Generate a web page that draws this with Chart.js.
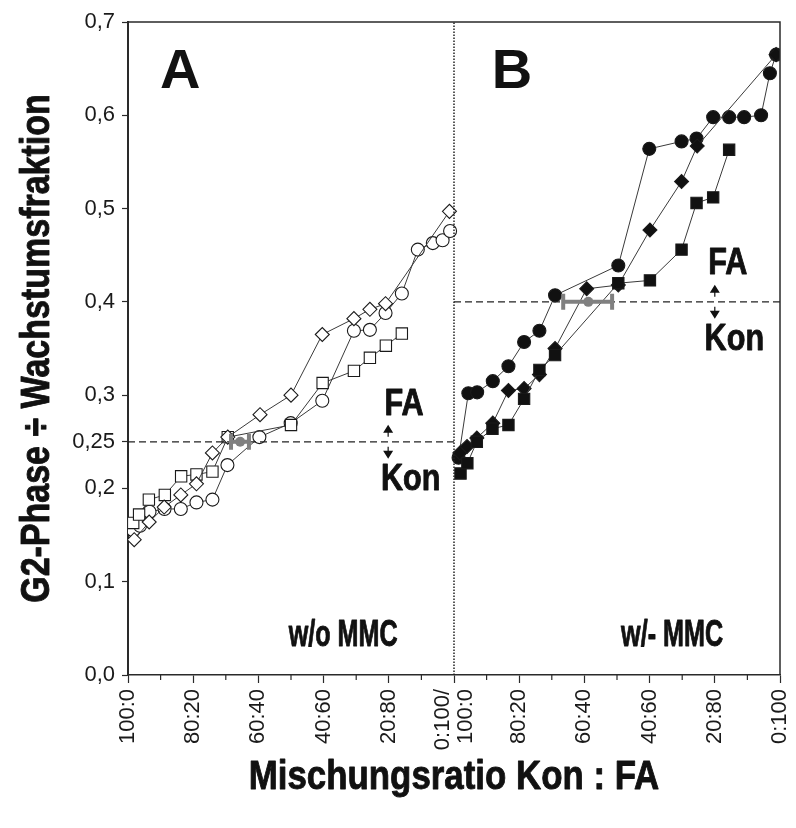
<!DOCTYPE html>
<html>
<head>
<meta charset="utf-8">
<script src="https://cdn.jsdelivr.net/npm/chart.js@4.4.1/dist/chart.umd.min.js"></script>
<style>
  html, body { margin: 0; padding: 0; background: #fff; }
</style>
</head>
<body>
<canvas id="cnv_g2_chart" width="796" height="828"></canvas>
<script>
// x = share of FA in percent, panel A on 0..100, panel B shifted to 100..200
const xTickLabels = ['100:0', '80:20', '60:40', '40:60', '20:80', ['0:100/', '100:0'], '80:20', '60:40', '40:60', '20:80', '0:100']
const yTickValues = [0, 0.1, 0.2, 0.25, 0.3, 0.4, 0.5, 0.6, 0.7]

// panel A: w/o MMC (open symbols)
const aDiamondX = [1.9, 6.5, 11.1, 16.2, 21, 25.9, 30.6, 40.5, 50, 59.6, 69.3, 74.2, 79, 98.6]
const aDiamondY = [0.145, 0.164, 0.180, 0.193, 0.205, 0.238, 0.255, 0.279, 0.300, 0.365, 0.382, 0.392, 0.398, 0.497]
const aSquareX = [1.6, 3.4, 6.4, 11.3, 16.3, 21, 25.9, 30.6, 50, 59.7, 69.3, 74.2, 79.1, 84]
const aSquareY = [0.163, 0.172, 0.188, 0.193, 0.213, 0.215, 0.218, 0.255, 0.268, 0.313, 0.326, 0.340, 0.353, 0.366]
const aCircleX = [1.6, 3.7, 6.6, 11.2, 16.2, 21, 25.9, 30.5, 40.3, 49.9, 59.6, 69.3, 74.2, 79, 84, 88.9, 93.5, 96.5, 98.8]
const aCircleY = [0.155, 0.160, 0.175, 0.178, 0.178, 0.185, 0.188, 0.225, 0.255, 0.270, 0.294, 0.369, 0.370, 0.388, 0.409, 0.456, 0.463, 0.466, 0.476]

// panel B: w/- MMC (filled symbols)
const bCircleX = [101.4, 104.4, 107.1, 111.9, 116.7, 121.5, 126.2, 131, 150.4, 159.9, 169.8, 174.4, 179.5, 184.4, 189, 194.2, 196.9, 198.8]
const bCircleY = [0.233, 0.302, 0.303, 0.315, 0.331, 0.357, 0.369, 0.407, 0.439, 0.564, 0.572, 0.575, 0.598, 0.598, 0.598, 0.600, 0.645, 0.665]
const bDiamondX = [101.8, 104, 107, 111.9, 116.7, 121.5, 126.2, 131, 140.7, 150.4, 160.1, 169.8, 174.6, 198.8]
const bDiamondY = [0.238, 0.245, 0.254, 0.270, 0.305, 0.307, 0.322, 0.350, 0.414, 0.418, 0.477, 0.529, 0.567, 0.665]
const bSquareX = [102, 104.1, 107, 111.8, 116.7, 121.5, 126.2, 131, 150.4, 160.1, 169.8, 174.4, 179.5, 184.4]
const bSquareY = [0.216, 0.227, 0.250, 0.264, 0.268, 0.296, 0.327, 0.343, 0.420, 0.423, 0.456, 0.506, 0.512, 0.563]

// crossing points with their spread (x range) on the threshold line
const crossA = { x: 34.4, lo: 31.6, hi: 37.1, y: 0.25 }
const crossB = { x: 141.2, lo: 133.5, hi: 148.5, y: 0.40 }

const SANS = "'Liberation Sans', Arial, sans-serif"

const toPoints = (xs, ys) => xs.map((x, i) => ({ x: x, y: ys[i] }))

const series = (xs, ys, style, radius, fill) => ({
    data: toPoints(xs, ys),
    showLine: true,
    borderColor: '#3a3a3a',
    borderWidth: 1,
    pointStyle: style,
    pointRadius: radius,
    pointBackgroundColor: fill,
    pointBorderColor: '#1a1a1a',
    pointBorderWidth: 1.1
})

const refLine = (pts, dash, width) => ({
    data: pts,
    showLine: true,
    borderColor: '#222',
    borderWidth: width,
    borderDash: dash,
    pointRadius: 0
})

// bold text squeezed horizontally, looks like a narrow bold face;
// a thin outline keeps the strokes heavy after squeezing
const narrowText = (ctx, text, x, y, size, squeeze, angle) => {
    ctx.save()
    ctx.translate(x, y)
    if (angle) ctx.rotate(angle)
    ctx.scale(squeeze, 1)
    ctx.font = `bold ${size}px ${SANS}`
    ctx.strokeStyle = ctx.fillStyle
    ctx.lineWidth = 0.9
    ctx.lineJoin = 'round'
    ctx.fillText(text, 0, 0)
    ctx.strokeText(text, 0, 0)
    ctx.restore()
}

// frame, minor ticks, crossing bars, titles and panel text
const decorations = {
    id: 'decorations',
    afterDatasetsDraw(chart) {
        const { ctx, chartArea, scales } = chart
        const sx = scales.x, sy = scales.y
        ctx.save()

        // crossing bars
        const drawCross = (c) => {
            const y = sy.getPixelForValue(c.y)
            const x0 = sx.getPixelForValue(c.lo), x1 = sx.getPixelForValue(c.hi)
            ctx.strokeStyle = '#808080'
            ctx.lineWidth = 4
            ctx.lineCap = 'butt'
            ctx.beginPath()
            ctx.moveTo(x0, y); ctx.lineTo(x1, y)
            ctx.moveTo(x0, y - 8); ctx.lineTo(x0, y + 8)
            ctx.moveTo(x1, y - 8); ctx.lineTo(x1, y + 8)
            ctx.stroke()
            ctx.fillStyle = '#808080'
            ctx.beginPath()
            ctx.arc(sx.getPixelForValue(c.x), y, 5, 0, Math.PI * 2)
            ctx.fill()
        }
        drawCross(crossA)
        drawCross(crossB)

        // top and right frame
        ctx.strokeStyle = '#2a2a2a'
        ctx.lineWidth = 1.5
        ctx.beginPath()
        ctx.moveTo(chartArea.left, chartArea.top)
        ctx.lineTo(chartArea.right, chartArea.top)
        ctx.lineTo(chartArea.right, chartArea.bottom)
        ctx.stroke()

        // minor x ticks
        ctx.lineWidth = 1.2
        ctx.beginPath()
        for (let v = 10; v < 200; v += 20) {
            const x = sx.getPixelForValue(v)
            ctx.moveTo(x, chartArea.bottom)
            ctx.lineTo(x, chartArea.bottom + 5)
        }
        ctx.stroke()

        ctx.fillStyle = '#111'

        // two-line label where the panels meet, lines side by side around the tick
        const mid = xTickLabels[5]
        ctx.save()
        ctx.translate(sx.getPixelForValue(100), chartArea.bottom + 14)
        ctx.rotate(-Math.PI / 2)
        ctx.font = `22px ${SANS}`
        ctx.fillStyle = '#1a1a1a'
        ctx.textAlign = 'right'
        ctx.textBaseline = 'middle'
        ctx.fillText(mid[0], 0, -11)
        ctx.fillText(mid[1], 0, 12)
        ctx.restore()

        ctx.textAlign = 'center'
        ctx.textBaseline = 'middle'

        // axis titles
        narrowText(ctx, 'Mischungsratio Kon : FA', (chartArea.left + chartArea.right) / 2, 778, 41, 0.85)
        narrowText(ctx, 'G2-Phase ÷ Wachstumsfraktion', 38, (chartArea.top + chartArea.bottom) / 2, 40, 0.85, -Math.PI / 2)

        // panel letters and treatment labels
        ctx.font = `bold 56px ${SANS}`
        ctx.fillText('A', sx.getPixelForValue(16), sy.getPixelForValue(0.646))
        ctx.fillText('B', sx.getPixelForValue(117.8), sy.getPixelForValue(0.646))
        narrowText(ctx, 'w/o MMC', sx.getPixelForValue(66), sy.getPixelForValue(0.042), 37, 0.68)
        narrowText(ctx, 'w/- MMC', sx.getPixelForValue(166.9), sy.getPixelForValue(0.042), 37, 0.68)

        // FA / Kon side marks with double arrow
        const sideMark = (xText, xArrow, yLine, yFa, yKon) => {
            narrowText(ctx, 'FA', sx.getPixelForValue(xText), sy.getPixelForValue(yFa), 36, 0.85)
            narrowText(ctx, 'Kon', sx.getPixelForValue(xText + 2), sy.getPixelForValue(yKon), 36, 0.85)
            const ax = sx.getPixelForValue(xArrow), ay = sy.getPixelForValue(yLine)
            ctx.beginPath()
            ctx.moveTo(ax, ay - 17); ctx.lineTo(ax - 5, ay - 9); ctx.lineTo(ax + 5, ay - 9); ctx.closePath()
            ctx.moveTo(ax, ay + 17); ctx.lineTo(ax - 5, ay + 9); ctx.lineTo(ax + 5, ay + 9); ctx.closePath()
            ctx.fill()
            ctx.strokeStyle = '#111'
            ctx.lineWidth = 1.2
            ctx.beginPath()
            ctx.moveTo(ax, ay - 10); ctx.lineTo(ax, ay - 5)
            ctx.moveTo(ax, ay + 10); ctx.lineTo(ax, ay + 5)
            ctx.stroke()
        }
        sideMark(84.7, 79.8, crossA.y, 0.289, 0.209)
        sideMark(184, 180, crossB.y, 0.44, 0.359)

        ctx.restore()
    }
}

const ctx = document.getElementById('cnv_g2_chart').getContext('2d')
const myChart = new Chart(ctx, {
    type: 'scatter',
    plugins: [decorations],
    data: {
        datasets: [
            refLine([{ x: 0, y: crossA.y }, { x: 100, y: crossA.y }], [7, 4], 1.3),
            refLine([{ x: 100, y: crossB.y }, { x: 200, y: crossB.y }], [7, 4], 1.3),
            refLine([{ x: 100, y: 0 }, { x: 100, y: 0.7 }], [1.5, 1.5], 1.5),
            series(aDiamondX, aDiamondY, 'rectRot', 7, '#fff'),
            series(aSquareX, aSquareY, 'rect', 8, '#fff'),
            series(aCircleX, aCircleY, 'circle', 6.5, '#fff'),
            series(bSquareX, bSquareY, 'rect', 8, '#111'),
            series(bDiamondX, bDiamondY, 'rectRot', 7, '#111'),
            series(bCircleX, bCircleY, 'circle', 6.5, '#111')
        ]
    },
    options: {
        responsive: false,
        animation: false,
        layout: { padding: { left: 20, right: 16, top: 22, bottom: 28 } },
        plugins: {
            legend: { display: false },
            tooltip: { enabled: false }
        },
        scales: {
            x: {
                type: 'linear',
                min: 0,
                max: 200,
                afterFit: (scale) => {
                    scale.height = 125
                    scale.paddingLeft = 0
                    scale.paddingRight = 0
                },
                afterBuildTicks: (scale) => {
                    scale.ticks = xTickLabels.map((l, i) => ({ value: i * 20 }))
                },
                border: { display: true, color: '#2a2a2a', width: 1.5 },
                grid: { drawOnChartArea: false, drawTicks: true, tickLength: 8, color: '#2a2a2a', tickWidth: 1.2 },
                ticks: {
                    autoSkip: false,
                    minRotation: 90,
                    maxRotation: 90,
                    padding: 6,
                    color: '#1a1a1a',
                    font: { family: SANS, size: 22 },
                    // the two-line label at the panel border is drawn by the plugin
                    callback: (value) => {
                        const label = xTickLabels[Math.round(value / 20)]
                        return Array.isArray(label) ? '' : label
                    }
                }
            },
            y: {
                min: 0,
                max: 0.7,
                afterFit: (scale) => { scale.width = 108 },
                afterBuildTicks: (scale) => {
                    scale.ticks = yTickValues.map(v => ({ value: v }))
                },
                border: { display: true, color: '#2a2a2a', width: 2 },
                grid: { drawOnChartArea: false, drawTicks: true, tickLength: 6, color: '#2a2a2a', tickWidth: 1.2 },
                ticks: {
                    padding: 7,
                    color: '#1a1a1a',
                    font: { family: SANS, size: 22 },
                    callback: (value) => value === 0.25 ? '0,25' : value.toFixed(1).replace('.', ',')
                }
            }
        }
    }
})
</script>
</body>
</html>
